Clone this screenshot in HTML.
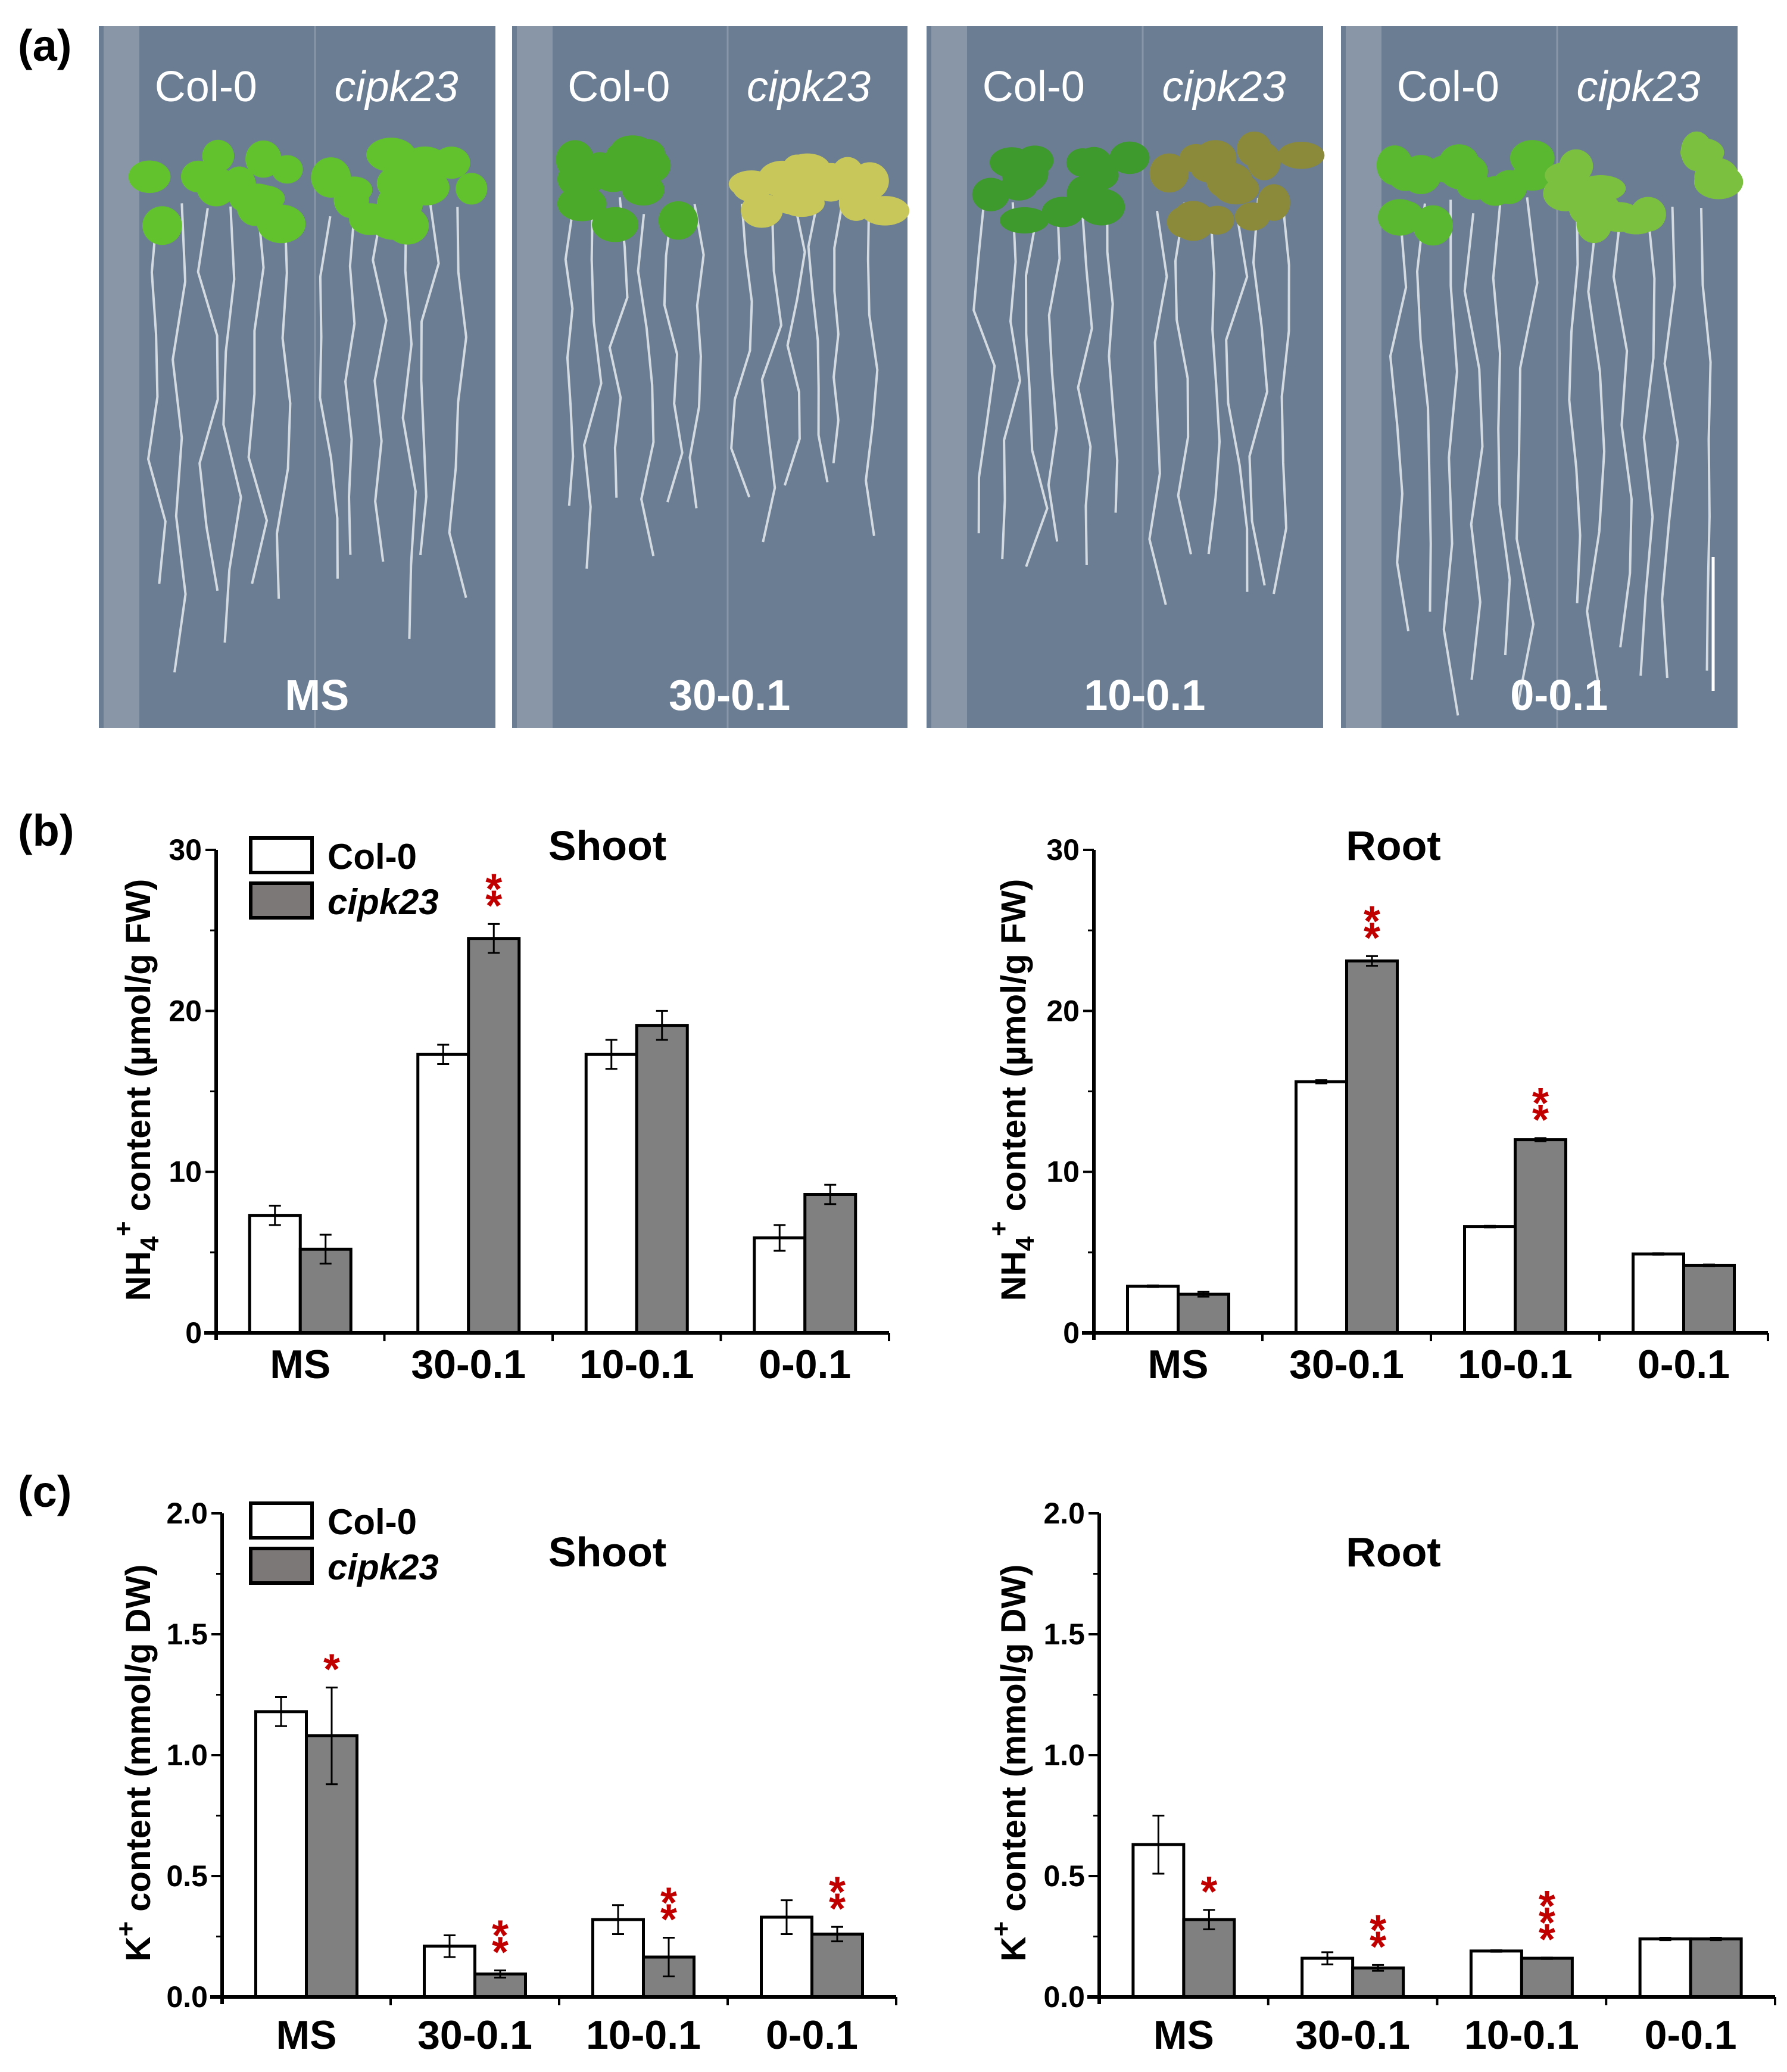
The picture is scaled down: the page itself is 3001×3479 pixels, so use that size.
<!DOCTYPE html>
<html><head><meta charset="utf-8"><style>
html,body{margin:0;padding:0;background:#fff;}
svg{display:block;}
text{font-family:"Liberation Sans",Arial,sans-serif;}
</style></head><body>
<svg id="fig" width="3001" height="3479" viewBox="0 0 3001 3479" xmlns="http://www.w3.org/2000/svg">
<rect width="3001" height="3479" fill="#fff"/>
<g id="photos"></g>
<text x="30" y="102" font-size="74" font-weight="bold">(a)</text>
<text x="30" y="1420" font-size="74" font-weight="bold">(b)</text>
<text x="30" y="2530" font-size="74" font-weight="bold">(c)</text>
<g id="charts"></g>
</svg>
<script>
// ---- chart data ----
const categories = ["MS","30-0.1","10-0.1","0-0.1"];
const nh4ShootCol = [7.3,17.3,17.3,5.9];
const nh4ShootColErr = [0.6,0.6,0.9,0.8];
const nh4ShootCipk = [5.2,24.5,19.1,8.6];
const nh4ShootCipkErr = [0.9,0.9,0.9,0.6];
const nh4ShootStars = ["","**","",""];
const nh4RootCol = [2.9,15.6,6.6,4.9];
const nh4RootColErr = [0.05,0.1,0.05,0.05];
const nh4RootCipk = [2.4,23.1,12.0,4.2];
const nh4RootCipkErr = [0.15,0.3,0.1,0.05];
const nh4RootStars = ["","**","**",""];
const kShootCol = [1.18,0.21,0.32,0.33];
const kShootColErr = [0.06,0.045,0.06,0.07];
const kShootCipk = [1.08,0.095,0.165,0.26];
const kShootCipkErr = [0.2,0.015,0.08,0.03];
const kShootStars = ["*","**","**","**"];
const kRootCol = [0.63,0.16,0.19,0.24];
const kRootColErr = [0.12,0.025,0.003,0.005];
const kRootCipk = [0.32,0.12,0.16,0.24];
const kRootCipkErr = [0.04,0.012,0.003,0.005];
const kRootStars = ["*","**","***",""];
const nh4Ticks = [0,10,20,30];
const kTicks = ["0.0","0.5","1.0","1.5","2.0"];

const NS="http://www.w3.org/2000/svg";
function mk(tag,attrs,parent){const e=document.createElementNS(NS,tag);for(const k in attrs)e.setAttribute(k,attrs[k]);parent.appendChild(e);return e;}
const charts=document.getElementById('charts');

function chart(o){
  const g=mk('g',{},charts);
  
  
  const ymap=v=>o.y0-(v/o.ymax)*(o.y0-o.ytop);
  const gw=(o.xend-o.ax)/categories.length;
  const bw=85;
  categories.forEach((c,i)=>{
    const cx=o.ax+gw*(i+0.5);
    [[o.col,o.colErr,'#fff',cx-bw,'bar-col0-'],[o.cip,o.cipErr,'#808080',cx,'bar-cipk23-']].forEach(s=>{
      const v=s[0][i],y=ymap(v);
      const r=mk('rect',{x:s[3],y:y,width:bw,height:o.y0-y,fill:s[2],stroke:'#000','stroke-width':5},g);
      
      
      const e=s[1][i],ex=s[3]+bw/2;
      const eb=mk('path',{d:`M${ex},${ymap(v+e)}V${ymap(v-e)}M${ex-10},${ymap(v+e)}h20M${ex-10},${ymap(v-e)}h20`,stroke:'#000','stroke-width':3,fill:'none'},g);
      
      
    });
    const st=o.stars[i];
    if(st){
      const ex=cx+bw/2, top=ymap(o.cip[i]+o.cipErr[i]);
      for(let k=0;k<st.length;k++){
        const t=mk('text',{x:ex,y:top-6-(st.length-1-k)*28,'font-size':72,'font-weight':'bold',fill:'#c00000','text-anchor':'middle'},g);
        
        
        t.textContent='*';
      }
    }
    const lab=mk('text',{x:cx,y:o.catY,'font-size':68,'font-weight':'bold','text-anchor':'middle'},g);
    
    
    lab.textContent=c;
    if(i>0){mk('line',{x1:o.ax+gw*i,x2:o.ax+gw*i,y1:o.y0,y2:o.y0+14,stroke:'#000','stroke-width':4},g);}
  });
  mk('line',{x1:o.xend,x2:o.xend,y1:o.y0,y2:o.y0+14,stroke:'#000','stroke-width':4},g);
  const xa=mk('line',{x1:o.ax-20,x2:o.xend,y1:o.y0,y2:o.y0,stroke:'#000','stroke-width':6},g);
  
  
  const ya=mk('line',{x1:o.ax,x2:o.ax,y1:o.ytop,y2:o.y0+12,stroke:'#000','stroke-width':6},g);
  
  
  o.ticks.forEach((t,i)=>{
    const v=parseFloat(t),y=ymap(v);
    mk('line',{x1:o.ax-18,x2:o.ax,y1:y,y2:y,stroke:'#000','stroke-width':4},g);
    if(i<o.ticks.length-1){const ym=ymap(v+o.ymax/(o.ticks.length-1)/2);mk('line',{x1:o.ax-10,x2:o.ax,y1:ym,y2:ym,stroke:'#000','stroke-width':3},g);}
    const tl=mk('text',{x:o.ax-24,y:y+17,'font-size':50,'font-weight':'bold','text-anchor':'end'},g);
    
    
    tl.textContent=t;
  });
  const ti=mk('text',{x:o.titleX,y:o.titleY,'font-size':70,'font-weight':'bold','text-anchor':'middle'},g);
  
  
  ti.textContent=o.title;
  const yt=mk('text',{x:0,y:0,'font-size':58,'font-weight':'bold','text-anchor':'middle',transform:`translate(${o.ytX},${o.ytY}) rotate(-90)`},g);
  
  
  yt.innerHTML=o.ytitle;
  if(o.legend){
    const lg=mk('g',{},g);
    
    
    mk('rect',{x:421,y:o.legY,width:103,height:58,fill:'#fff',stroke:'#000','stroke-width':6},lg);
    mk('rect',{x:421,y:o.legY+76,width:103,height:58,fill:'#7d7878',stroke:'#000','stroke-width':6},lg);
    const l1=mk('text',{x:550,y:o.legY+52,'font-size':60,'font-weight':'bold'},lg);l1.textContent='Col-0';
    const l2=mk('text',{x:550,y:o.legY+128,'font-size':60,'font-weight':'bold','font-style':'italic'},lg);l2.textContent='cipk23';
  }
}
const nh4T='NH<tspan font-size="44" dy="14">4</tspan><tspan font-size="44" dy="-44">+</tspan><tspan dy="30"> content (µmol/g FW)</tspan>';
const kT='K<tspan font-size="44" dy="-26">+</tspan><tspan dy="26"> content (mmol/g DW)</tspan>';
chart({name:'nh4-shoot-chart',ax:363,xend:1493,y0:2238,ytop:1427,ymax:30,ticks:nh4Ticks,col:nh4ShootCol,colErr:nh4ShootColErr,cip:nh4ShootCipk,cipErr:nh4ShootCipkErr,stars:nh4ShootStars,catY:2314,title:'Shoot',titleX:1020,titleY:1444,ytitle:nh4T,ytX:252,ytY:1830,legend:true,legY:1407});
chart({name:'nh4-root-chart',ax:1837,xend:2969,y0:2238,ytop:1427,ymax:30,ticks:nh4Ticks,col:nh4RootCol,colErr:nh4RootColErr,cip:nh4RootCipk,cipErr:nh4RootCipkErr,stars:nh4RootStars,catY:2314,title:'Root',titleX:2340,titleY:1444,ytitle:nh4T,ytX:1722,ytY:1830});
chart({name:'k-shoot-chart',ax:373,xend:1505,y0:3353,ytop:2541,ymax:2,ticks:kTicks,col:kShootCol,colErr:kShootColErr,cip:kShootCipk,cipErr:kShootCipkErr,stars:kShootStars,catY:3440,title:'Shoot',titleX:1020,titleY:2630,ytitle:kT,ytX:252,ytY:2960,legend:true,legY:2524});
chart({name:'k-root-chart',ax:1846,xend:2981,y0:3353,ytop:2541,ymax:2,ticks:kTicks,col:kRootCol,colErr:kRootColErr,cip:kRootCipk,cipErr:kRootCipkErr,stars:kRootStars,catY:3440,title:'Root',titleX:2340,titleY:2630,ytitle:kT,ytX:1722,ytY:2960});

// ---- photo panel (illustrative) ----
const ph=document.getElementById('photos');
const plates=[[166,832,'MS'],[860,1524,'30-0.1'],[1556,2222,'10-0.1'],[2252,2918,'0-0.1']];
const leafCol=[['#62c22e','#62c22e'],['#4caa2a','#c8c85a'],['#3e9a2c','#8a8a3a'],['#5ab830','#7cc040']];
const rootLen=[[800,760],[640,560],[620,660],[860,780]];
let seed=7;function rnd(){seed=(seed*9301+49297)%233280;return seed/233280;}
plates.forEach((p,i)=>{
  const g=mk('g',{},ph);
  
  
  mk('rect',{x:p[0],y:44,width:p[1]-p[0],height:1178,fill:'#6b7d93'},g);
  mk('rect',{x:p[0]+8,y:44,width:60,height:1178,fill:'#a6b0bc',opacity:0.5},g);
  mk('line',{x1:(p[0]+p[1])/2+30,x2:(p[0]+p[1])/2+30,y1:44,y2:1222,stroke:'#8896a8','stroke-width':3},g);
  const w=p[1]-p[0];
  [0,1].forEach(s=>{
    const base=p[0]+(s===0?0.14:0.58)*w;
    for(let k=0;k<6;k++){
      const rx=base+k*42+rnd()*10, top=330+rnd()*40, len=rootLen[i][s]*(0.75+rnd()*0.3);
      let d=`M${rx},${top}`;for(let t=1;t<=6;t++)d+=` L${rx+(rnd()-0.5)*36},${top+len*t/6}`;
      mk('path',{d:d,stroke:'#dfe4ea','stroke-width':4,fill:'none',opacity:0.9},g);
    }
    for(let k=0;k<14;k++){
      mk('ellipse',{cx:base-10+rnd()*260,cy:250+rnd()*130,rx:26+rnd()*16,ry:22+rnd()*12,fill:leafCol[i][s]},g);
    }
  });
  const c1=mk('text',{x:p[0]+0.27*w,y:170,'font-size':72,fill:'#fff','text-anchor':'middle'},g);c1.textContent='Col-0';
  const c2=mk('text',{x:p[0]+0.75*w,y:170,'font-size':72,fill:'#fff','font-style':'italic','text-anchor':'middle'},g);c2.textContent='cipk23';
  const bl=mk('text',{x:p[0]+0.55*w,y:1192,'font-size':72,'font-weight':'bold',fill:'#fff','text-anchor':'middle'},g);
  
  
  bl.textContent=p[2];
});
const sb=mk('line',{x1:2877,x2:2877,y1:935,y2:1160,stroke:'#fff','stroke-width':5},ph);


</script>
</body></html>
